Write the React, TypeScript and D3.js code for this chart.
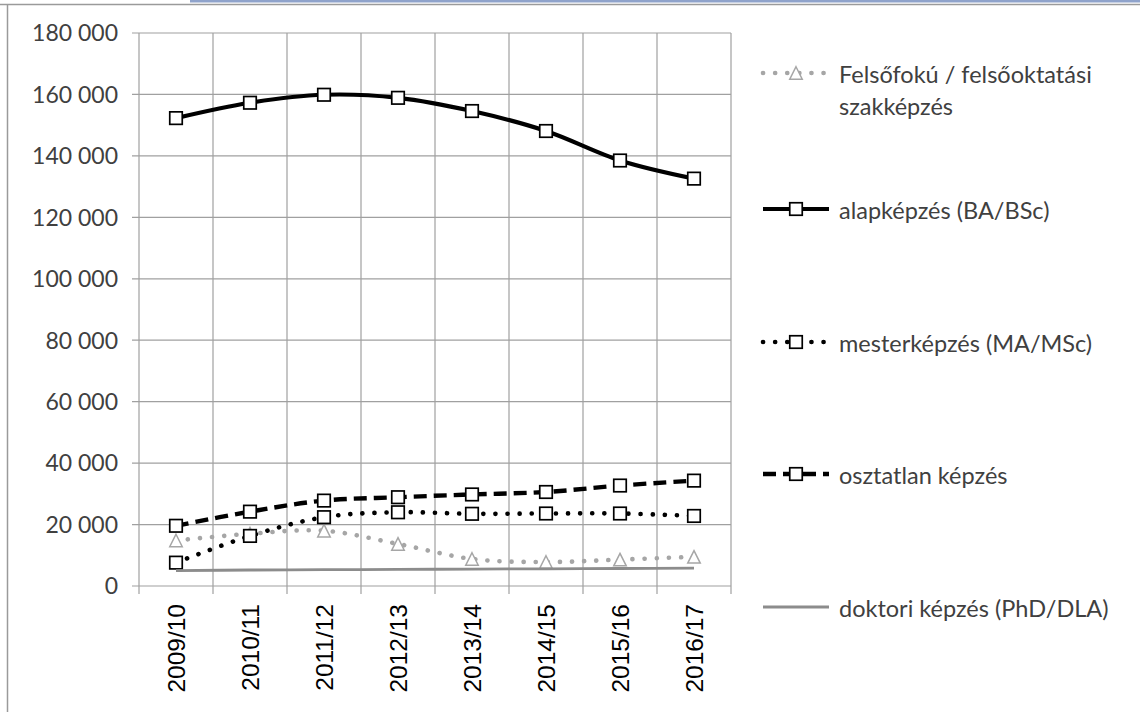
import React from 'react';
import * as d3 from 'd3';

const categories = ['2009/10', '2010/11', '2011/12', '2012/13', '2013/14', '2014/15', '2015/16', '2016/17'];
const felsofoku = [14800, 17000, 18000, 13700, 8800, 7800, 8600, 9500];
const alapkepzes = [152300, 157300, 159900, 158900, 154600, 148100, 138500, 132600];
const mesterkepzes = [7600, 16300, 22400, 24000, 23500, 23600, 23600, 22800];
const osztatlan = [19600, 24200, 27800, 28900, 29800, 30600, 32700, 34300];
const doktori = [5000, 5200, 5300, 5400, 5500, 5600, 5700, 5800];
const yTicks = [0, 20000, 40000, 60000, 80000, 100000, 120000, 140000, 160000, 180000];

type Series = {
  name: string[];
  values: number[];
  color: string;
  width: number;
  dash: string | null;
  cap: 'round' | 'butt';
  marker: 'square' | 'triangle' | null;
  legendY: number;
};

const series: Series[] = [
  { name: ['Felsőfokú / felsőoktatási', 'szakképzés'], values: felsofoku, color: '#a6a6a6', width: 4.6, dash: '0.1 12', cap: 'round', marker: 'triangle', legendY: 73 },
  { name: ['alapképzés (BA/BSc)'], values: alapkepzes, color: '#000000', width: 4.2, dash: null, cap: 'butt', marker: 'square', legendY: 209 },
  { name: ['mesterképzés (MA/MSc)'], values: mesterkepzes, color: '#000000', width: 4.6, dash: '0.1 12', cap: 'round', marker: 'square', legendY: 342 },
  { name: ['osztatlan képzés'], values: osztatlan, color: '#000000', width: 4.4, dash: '13 7', cap: 'butt', marker: 'square', legendY: 474 },
  { name: ['doktori képzés (PhD/DLA)'], values: doktori, color: '#8c8c8c', width: 2.8, dash: null, cap: 'butt', marker: null, legendY: 607 },
];

const W = 1140;
const H = 712;
const left = 139;
const right = 731;
const top = 33;
const bottom = 586;

function Marker({ type, cx, cy, color }: { type: 'square' | 'triangle' | null; cx: number; cy: number; color: string }) {
  if (type === 'square') {
    const s = 12.5;
    return <rect x={cx - s / 2} y={cy - s / 2} width={s} height={s} fill="#fff" stroke={color} strokeWidth={1.7} />;
  }
  if (type === 'triangle') {
    const s = 12.5;
    const pts = `${cx},${cy - s / 2} ${cx + s / 2},${cy + s / 2} ${cx - s / 2},${cy + s / 2}`;
    return <polygon points={pts} fill="#fff" stroke={color} strokeWidth={1.5} />;
  }
  return null;
}

export default function App() {
  const x = d3.scaleBand<string>().domain(categories).range([left, right]);
  const y = d3.scaleLinear().domain([0, 180000]).range([bottom, top]);
  const cx = (c: string) => (x(c) as number) + x.bandwidth() / 2;
  const line = d3
    .line<number>()
    .x((_, i) => cx(categories[i]))
    .y((v) => y(v))
    .curve(d3.curveCardinal.tension(0));
  const fmt = (v: number) => d3.format(',')(v).replace(/,/g, ' ');
  const boundaries = d3.range(categories.length + 1).map((i) => left + i * x.step());
  const font = 'Lato, "Open Sans", sans-serif';

  return (
    <svg width={W} height={H} style={{ position: 'absolute', left: 0, top: 0, background: '#fff' }}>
      <rect x={0} y={0} width={W} height={H} fill="#fff" />
      {/* frame */}
      <rect x={190} y={0} width={W - 190} height={2.5} fill="#8fa3cb" />
      <line x1={0} x2={W} y1={4.5} y2={4.5} stroke="#9a9a9a" strokeWidth={1.5} />
      <line x1={7.5} x2={7.5} y1={4} y2={H} stroke="#9a9a9a" strokeWidth={1.5} />

      {/* horizontal gridlines and y ticks */}
      {yTicks.map((t) => (
        <g key={t}>
          <line x1={left - 7} x2={right} y1={y(t)} y2={y(t)} stroke="#a0a0a0" strokeWidth={1.2} />
          <text x={118} y={y(t)} dy="0.36em" textAnchor="end" fontFamily={font} fontSize={23} fill="#404040">
            {fmt(t)}
          </text>
        </g>
      ))}
      {/* vertical gridlines and x ticks */}
      {boundaries.map((bx, i) => (
        <line key={i} x1={bx} x2={bx} y1={top} y2={bottom + 8} stroke="#a0a0a0" strokeWidth={1.2} />
      ))}
      {/* x labels */}
      {categories.map((c) => (
        <text
          key={c}
          transform={`translate(${cx(c)},${bottom + 18}) rotate(-90)`}
          textAnchor="end"
          dy="0.36em"
          fontFamily='"Liberation Sans", Arial, sans-serif'
          fontSize={24.5}
          fill="#000"
        >
          {c}
        </text>
      ))}

      {/* series */}
      {series.map((s, si) => (
        <g key={si}>
          <path
            d={line(s.values) as string}
            fill="none"
            stroke={s.color}
            strokeWidth={s.width}
            strokeDasharray={s.dash ?? undefined}
            strokeLinecap={s.cap}
          />
          {s.values.map((v, i) => (
            <Marker key={i} type={s.marker} cx={cx(categories[i])} cy={y(v)} color={s.color} />
          ))}
        </g>
      ))}

      {/* legend */}
      {series.map((s, si) => (
        <g key={si}>
          <line
            x1={763}
            x2={829}
            y1={s.legendY}
            y2={s.legendY}
            stroke={s.color}
            strokeWidth={s.width}
            strokeDasharray={s.dash ?? undefined}
            strokeLinecap={s.cap}
          />
          <Marker type={s.marker} cx={796} cy={s.legendY} color={s.color} />
          {s.name.map((n, ni) => (
            <text
              key={ni}
              x={839}
              y={s.legendY + 2 + ni * 32}
              dy="0.36em"
              fontFamily={font}
              fontSize={23.5}
              fill="#404040"
            >
              {n}
            </text>
          ))}
        </g>
      ))}
    </svg>
  );
}
